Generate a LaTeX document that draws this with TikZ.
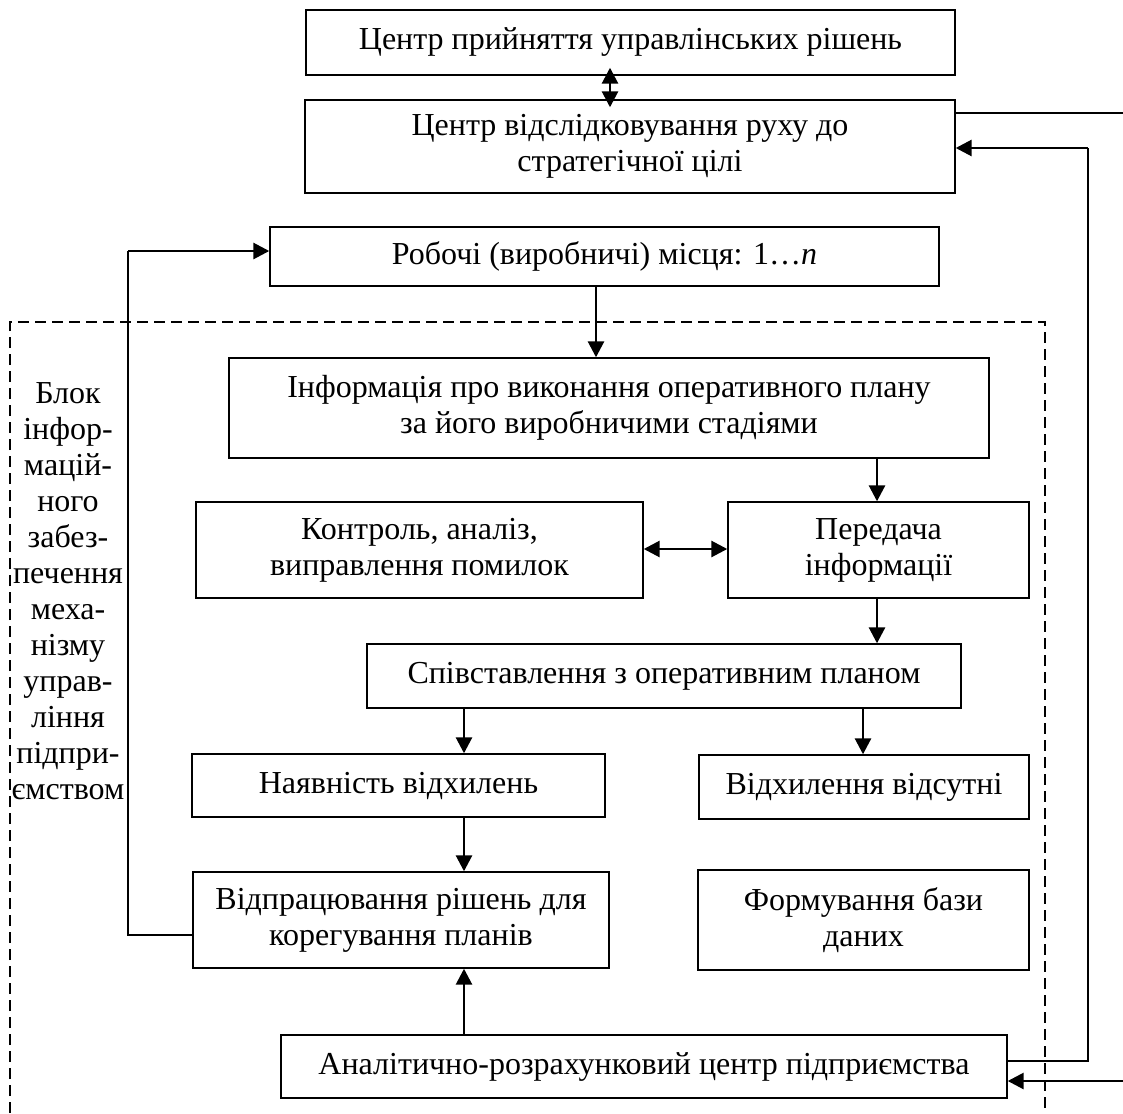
\documentclass[tikz,border=0pt]{standalone}
\usepackage{fontspec}
\setmainfont{Liberation Serif}
\usetikzlibrary{arrows.meta}
\begin{document}
\begin{tikzpicture}[x=0.5pt,y=-0.5pt,
  box/.style={draw=black,line width=0.7pt,inner sep=0pt,align=center,
    font=\fontsize{16}{18}\selectfont},
  arr/.style={line width=1.4pt,-{Triangle[length=8pt,width=8pt]}},
  darr/.style={line width=1.4pt,{Triangle[length=8pt,width=8pt]}-{Triangle[length=8pt,width=8pt]}},
  thinl/.style={line width=0.7pt},
  dashbox/.style={line width=0.6pt,dash pattern=on 5.5pt off 3pt}]
\useasboundingbox (0,0) rectangle (1123,1113);

\node[box,minimum width=324.5pt,minimum height=32.5pt] (b1) at (630.5,42.5)
  {Центр прийняття управлінських рішень};
\node[box,minimum width=325pt,minimum height=46.5pt] (b2) at (630,146.5)
  {Центр відслідковування руху до\\стратегічної цілі};
\node[box,minimum width=334.5pt,minimum height=29.5pt] (b3) at (604.5,256.5)
  {Робочі (виробничі) місця: 1…\textit{n}};
\node[box,minimum width=380pt,minimum height=50pt] (info) at (609,408)
  {Інформація про виконання оперативного плану\\за його виробничими стадіями};
\node[box,minimum width=223.5pt,minimum height=48pt] (ctrl) at (419.5,550)
  {Контроль, аналіз,\\виправлення помилок};
\node[box,minimum width=150.5pt,minimum height=48pt] (pered) at (878.5,550)
  {Передача\\інформації};
\node[box,minimum width=297pt,minimum height=32pt] (spiv) at (664,676)
  {Співставлення з оперативним планом};
\node[box,minimum width=206.5pt,minimum height=31.5pt] (nay) at (398.5,785.5)
  {Наявність відхилень};
\node[box,minimum width=165pt,minimum height=32pt] (vidh) at (864,787)
  {Відхилення відсутні};
\node[box,minimum width=208pt,minimum height=48pt] (otp) at (401,920)
  {Відпрацювання рішень для\\корегування планів};
\node[box,minimum width=165.5pt,minimum height=50pt] (form) at (863.5,920)
  {Формування бази\\даних};
\node[box,minimum width=363pt,minimum height=31.5pt] (an) at (644,1066.5)
  {Аналітично-розрахунковий центр підприємства};

\node[align=center,inner sep=0pt,font=\fontsize{16}{18}\selectfont] (blk) at (68,591)
  {Блок\\інфор-\\мацій-\\ного\\забез-\\печення\\меха-\\нізму\\управ-\\ління\\підпри-\\ємством};

% dashed block
\draw[dashbox] (10,1113) -- (10,322) -- (1045,322) -- (1045,1113);

% vertical connector positions
\coordinate (x610) at (610,0);
\coordinate (x596) at (596,0);
\coordinate (x877) at (877,0);
\coordinate (x863) at (863,0);
\coordinate (x464) at (464,0);
\coordinate (y549) at (0,549);

\draw[darr,shorten <=-4pt,shorten >=-4pt] (b1.south -| x610) -- (b2.north -| x610);
\draw[arr] (b3.south -| x596) -- (info.north -| x596);
\draw[arr] (info.south -| x877) -- (pered.north -| x877);
\draw[darr] (ctrl.east |- y549) -- (pered.west |- y549);
\draw[arr] (pered.south -| x877) -- (spiv.north -| x877);
\draw[arr] (spiv.south -| x464) -- (nay.north -| x464);
\draw[arr] (spiv.south -| x863) -- (vidh.north -| x863);
\draw[arr] (nay.south -| x464) -- (otp.north -| x464);
\draw[arr] (an.north -| x464) -- (otp.south -| x464);

% left loop
\coordinate (l1) at (128,935);
\coordinate (l2) at (128,251);
\draw[thinl] (otp.west |- l1) -- (l1) -- (l2);
\draw[arr] (l2) -- (b3.west |- l2);

% right loop
\coordinate (r1) at (1123,113);
\draw[thinl] (b2.east |- r1) -- (r1);
\coordinate (r2) at (1088,1061);
\coordinate (r3) at (1088,148);
\draw[thinl] (an.east |- r2) -- (r2) -- (r3);
\draw[arr] (r3) -- (b2.east |- r3);
\coordinate (r4) at (1123,1081);
\draw[arr] (r4) -- (an.east |- r4);
\end{tikzpicture}
\end{document}
